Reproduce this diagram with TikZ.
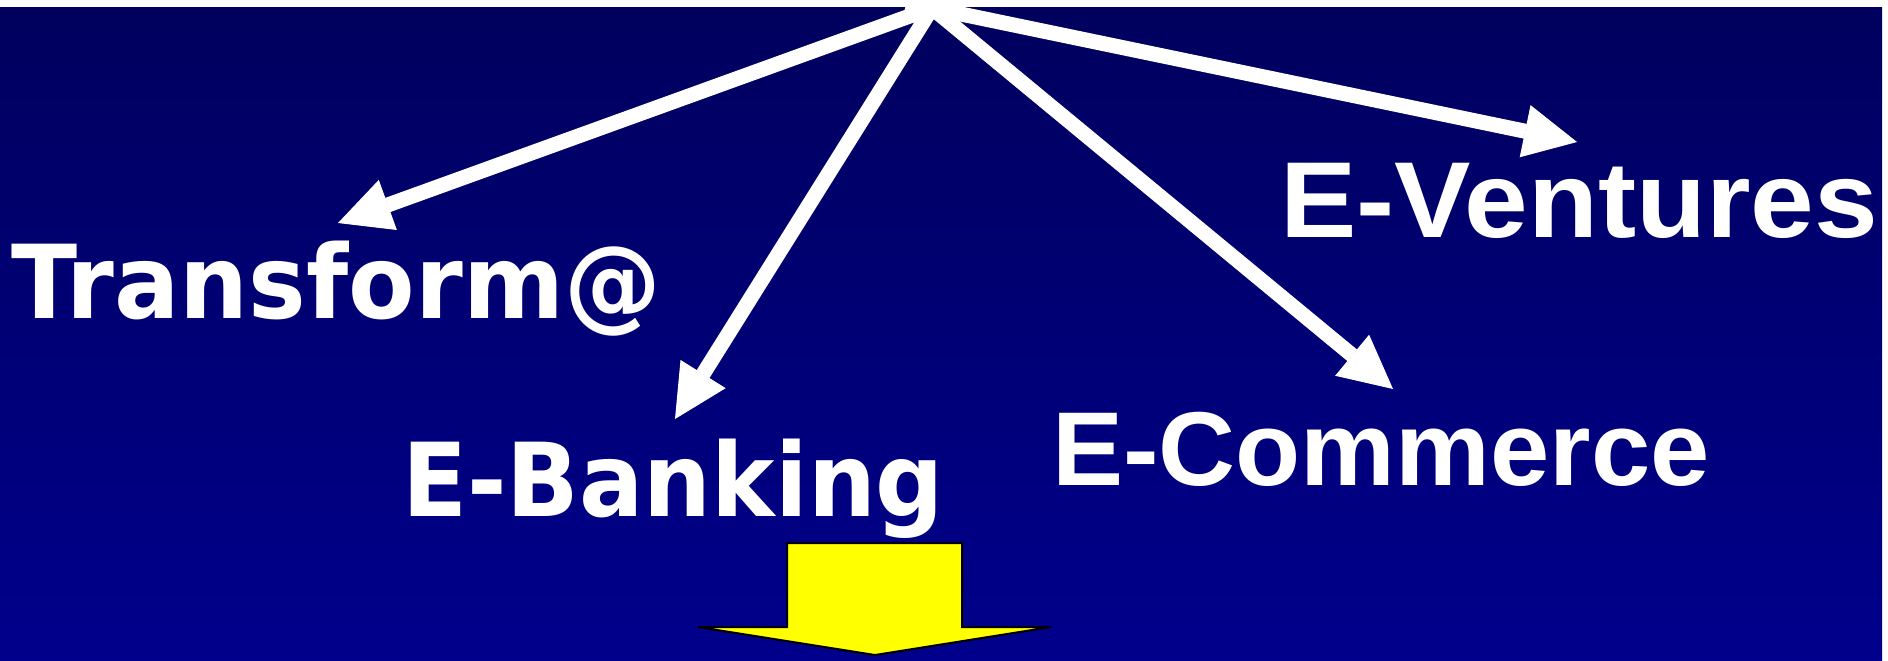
\documentclass[tikz,border=0pt]{standalone}
\usepackage{fontspec}
\usetikzlibrary{arrows.meta,calc}
\newfontfamily\djt{DejaVu Sans Bold}[FakeStretch=0.95]
\newfontfamily\djb{DejaVu Sans Bold}[FakeStretch=0.935]
\newfontfamily\lsb{Liberation Sans Bold}[FakeStretch=1.015]
\newfontfamily\lsbw{Liberation Sans Bold}[FakeStretch=1.06]
\definecolor{bgtop}{RGB}{0,0,94}
\definecolor{bgbot}{RGB}{0,0,140}
\definecolor{ylw}{RGB}{255,255,0}
\tikzset{
  conn/.style={draw=white, line width=15pt, line cap=butt,
    -{Triangle[length=53pt,width=53pt,line width=1pt]}},
  lbl/.style={text=white, inner sep=0pt, anchor=base west},
}
\begin{document}
\begin{tikzpicture}[x=1pt,y=-1pt]
\useasboundingbox (0,0) rectangle (1888,661);
\fill[white] (0,0) rectangle (1888,661);
\shade[top color=bgtop, bottom color=bgbot] (0,7) rectangle (1882,661);
% labels
\node[lbl, font=\djt\fontsize{102}{110}\selectfont] (trans) at (11,318) {Transform@};
\node[lbl, font=\djb\fontsize{102}{110}\selectfont] (bank) at (402,516) {E-Banking};
\node[lbl, font=\lsb\fontsize{105}{112}\selectfont] (comm) at (1052,485) {E-Commerce};
\node[lbl, font=\lsbw\fontsize{108}{116}\selectfont] (vent) at (1280,237) {E-Ventures};
% hub and tips
\coordinate (hub) at (932,8);
\coordinate (tipT) at (338,223);
\coordinate (tipB) at (675,419);
\coordinate (tipC) at (1393,389);
\coordinate (tipV) at (1577,142);
\draw[conn] ($(hub)!-0.04!(tipT)$) -- (tipT);
\draw[conn] ($(hub)!-0.04!(tipB)$) -- (tipB);
\draw[conn] ($(hub)!-0.04!(tipC)$) -- (tipC);
\draw[conn] ($(hub)!-0.04!(tipV)$) -- (tipV);
\fill[white] (0,0) rectangle (1888,7);
% yellow block arrow
\draw[fill=ylw, draw=black, line width=2pt, line join=miter]
  (787,543) -- (962,543) -- (962,627) -- (1051,627) -- (875,655)
  -- (698,627) -- (787,627) -- cycle;
\end{tikzpicture}
\end{document}
